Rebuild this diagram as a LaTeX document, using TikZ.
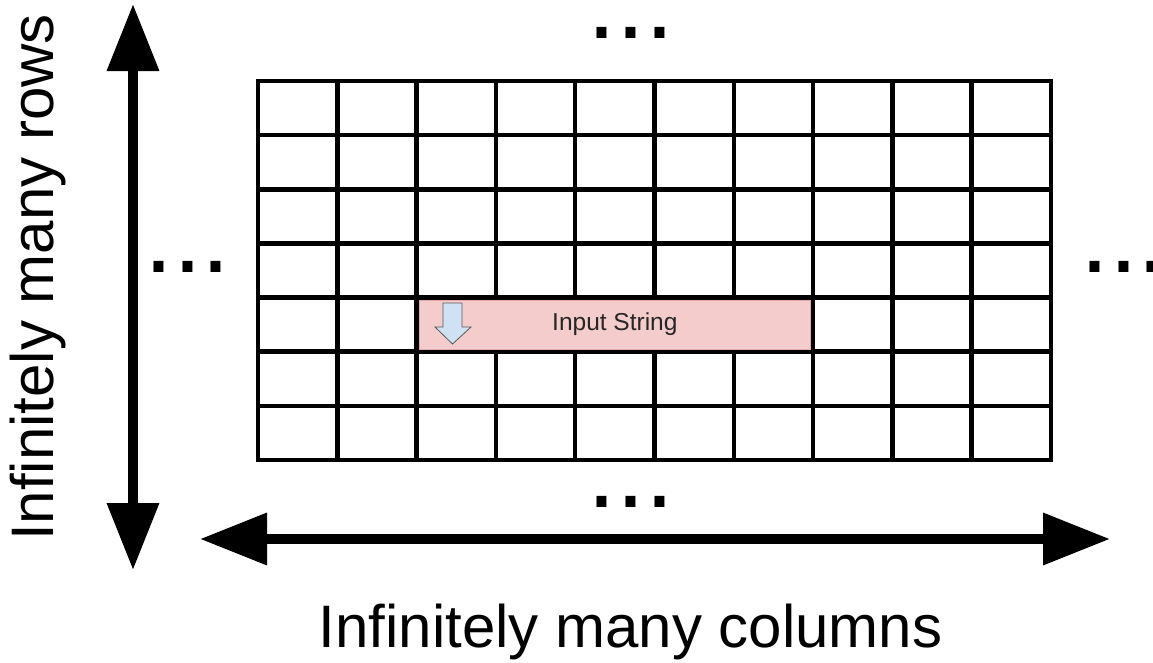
\documentclass[tikz,border=0pt]{standalone}
\usepackage{fontspec}
\setmainfont{Liberation Sans}
\usetikzlibrary{arrows.meta}
\definecolor{cellpink}{HTML}{F4CCCC}
\definecolor{pinkedge}{HTML}{E3AAAA}
\definecolor{arrowblue}{HTML}{CFE2F3}

\begin{document}
\begin{tikzpicture}[x=1pt,y=-1pt,
    gridline/.style={line width=4.5pt,line cap=rect},
    bigarrow/.style={line width=10pt,
      {Triangle[length=67pt,width=50pt]}-{Triangle[length=67pt,width=50pt]}},
    dots/.style={inner sep=0pt,anchor=base,font=\fontsize{104}{104}\selectfont},
    biglabel/.style={inner sep=0pt,anchor=base,font=\fontsize{60}{60}\selectfont}]
    \useasboundingbox (0,0) rectangle (1153,662);

    % Grid of cells
    \foreach \i in {0,...,10}
      \draw[gridline] (258+79.3*\i,81) -- (258+79.3*\i,460);
    \foreach \j in {0,...,7}
      \draw[gridline] (258,81+54.14*\j) -- (1051,81+54.14*\j);

    % Input string in row 5
    \node[fill=cellpink,draw=pinkedge,line width=0.8pt,inner sep=0pt,
      minimum width=391.5pt,minimum height=49pt,text=black!85,
      font=\fontsize{24.5}{24.5}\selectfont] (input) at (614.85,324.6) {Input String};
    \draw[fill=arrowblue,draw=black!65,line width=0.8pt]
      (443,303) -- (462,303) -- (462,327) -- (471,327) -- (452.5,344)
      -- (435,327) -- (443,327) -- cycle;

    % Dots on each side
    \node[dots] (topdots) at (631,38) {...};
    \node[dots] (leftdots) at (187.5,272) {...};
    \node[dots] (rightdots) at (1123.5,272) {...};
    \node[dots] (botdots) at (631,507) {...};

    % Arrows
    \coordinate (rowtop) at (133,4);
    \coordinate (rowbot) at (133,570);
    \coordinate (colleft) at (200,539);
    \coordinate (colright) at (1110,539);
    \draw[bigarrow] (rowtop) -- (rowbot);
    \draw[bigarrow] (colleft) -- (colright);

    % Labels
    \node[biglabel] (collabel) at (630.5,647) {Infinitely many columns};
    \node[biglabel,rotate=90] (rowlabel) at (53,277.5) {Infinitely many rows};
\end{tikzpicture}
\end{document}
